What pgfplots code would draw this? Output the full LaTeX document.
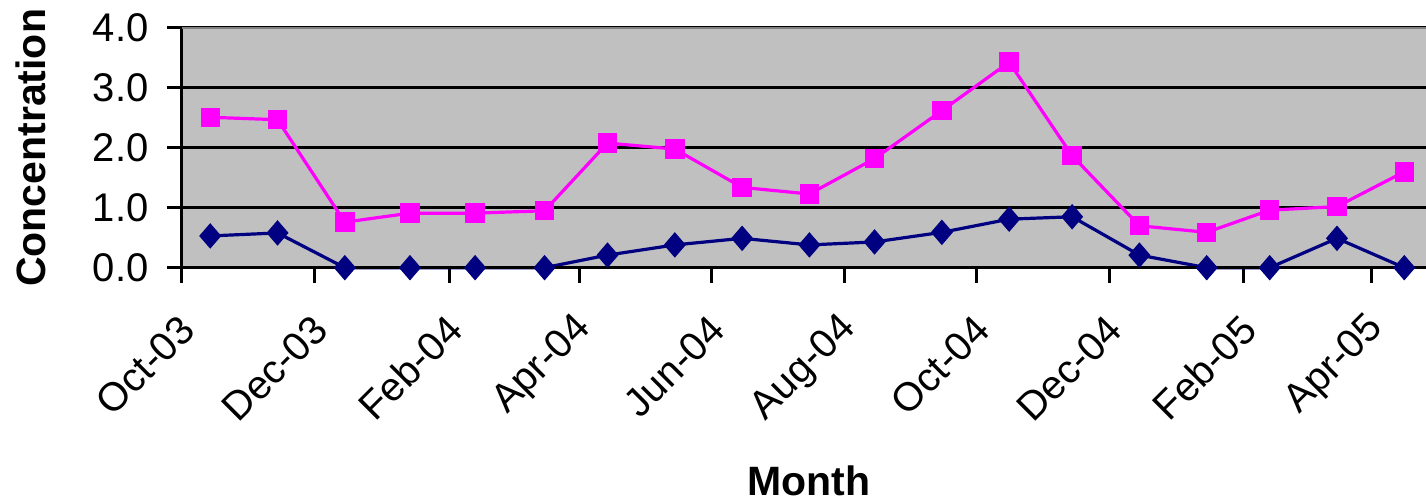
\documentclass[border=0pt]{standalone}
\usepackage{fontspec}
\setmainfont{Liberation Sans}
\usepackage{pgfplots}
\pgfplotsset{compat=1.18}
\usepgfplotslibrary{dateplot}

\definecolor{plotbg}{HTML}{C0C0C0}
\definecolor{navyline}{HTML}{000080}
\definecolor{pinkline}{HTML}{FF00FF}

\begin{document}
\begin{tikzpicture}
  \begin{axis}[
    scale only axis, width=622pt, height=119.85pt,
    date coordinates in=x, date ZERO=2003-10-01,
    xmin=2003-10-01, xmax=2005-04-26,
    ymin=0, ymax=4, ytick={0,1,2,3,4},
    xtick={2003-10-01,2003-12-01,2004-02-01,2004-04-01,2004-06-01,
           2004-08-01,2004-10-01,2004-12-01,2005-02-01,2005-04-01},
    xticklabels={Oct-03,Dec-03,Feb-04,Apr-04,Jun-04,Aug-04,Oct-04,Dec-04,Feb-05,Apr-05},
    /pgf/number format/fixed, /pgf/number format/fixed zerofill,
    /pgf/number format/precision=1, /pgf/number format/assume math mode=true,
    tick label style={font=\fontsize{20}{24}\selectfont},
    yticklabel style={anchor=east, inner sep=0pt, xshift=-9pt},
    xticklabel style={xshift=3pt, yshift=-20pt, rotate=45, anchor=east, inner sep=0pt},
    tick align=outside, xtick pos=bottom, ytick pos=left,
    major tick length=7.5pt,
    tick style={black, line width=1.5pt},
    axis line style={draw=none},
    axis background/.style={fill=plotbg},
    ymajorgrids, major grid style={black, line width=1.5pt},
    xlabel={Month}, ylabel={Concentration},
    label style={font=\fontsize{20.5}{24}\selectfont\bfseries},
    xlabel style={at={(axis description cs:0.5037,0)}, anchor=base, yshift=-113.7pt},
    ylabel style={at={(axis description cs:0,0.5)}, rotate=0, anchor=base, yshift=68pt},
    clip=false,
  ]
    % lower series
    \addplot[navyline, line width=1.6pt, mark=diamond*, mark size=6pt,
             mark options={solid, line width=0.5pt, xscale=1.15}] coordinates {
      (2003-10-14,0.53) (2003-11-14,0.58) (2003-12-15,0.00) (2004-01-14,0.00)
      (2004-02-13,0.00) (2004-03-16,0.00) (2004-04-14,0.21) (2004-05-15,0.38)
      (2004-06-15,0.49) (2004-07-16,0.38) (2004-08-15,0.43) (2004-09-15,0.59)
      (2004-10-16,0.81) (2004-11-14,0.85) (2004-12-15,0.21) (2005-01-15,0.00)
      (2005-02-13,0.00) (2005-03-16,0.49) (2005-04-16,0.00)
    };
    % upper series
    \addplot[pinkline, line width=1.6pt, mark=square*, mark size=4.6pt,
             mark options={solid, line width=0.5pt}] coordinates {
      (2003-10-14,2.51) (2003-11-14,2.47) (2003-12-15,0.76) (2004-01-14,0.91)
      (2004-02-13,0.91) (2004-03-16,0.95) (2004-04-14,2.08) (2004-05-15,1.98)
      (2004-06-15,1.34) (2004-07-16,1.23) (2004-08-15,1.82) (2004-09-15,2.62)
      (2004-10-16,3.43) (2004-11-14,1.87) (2004-12-15,0.70) (2005-01-15,0.59)
      (2005-02-13,0.96) (2005-03-16,1.02) (2005-04-16,1.60)
    };
    \draw[black, line width=1.5pt] (rel axis cs:0,0) -- (rel axis cs:1,0);
    \draw[black, line width=1.5pt] (rel axis cs:0,0) -- (rel axis cs:0,1);
    \draw[gray, line width=1.2pt] (rel axis cs:0,1) -- (rel axis cs:1,1);
  \end{axis}
  \pgfresetboundingbox
  \useasboundingbox (-91pt,-117.15pt) rectangle (622pt,133.85pt);
\end{tikzpicture}
\end{document}
